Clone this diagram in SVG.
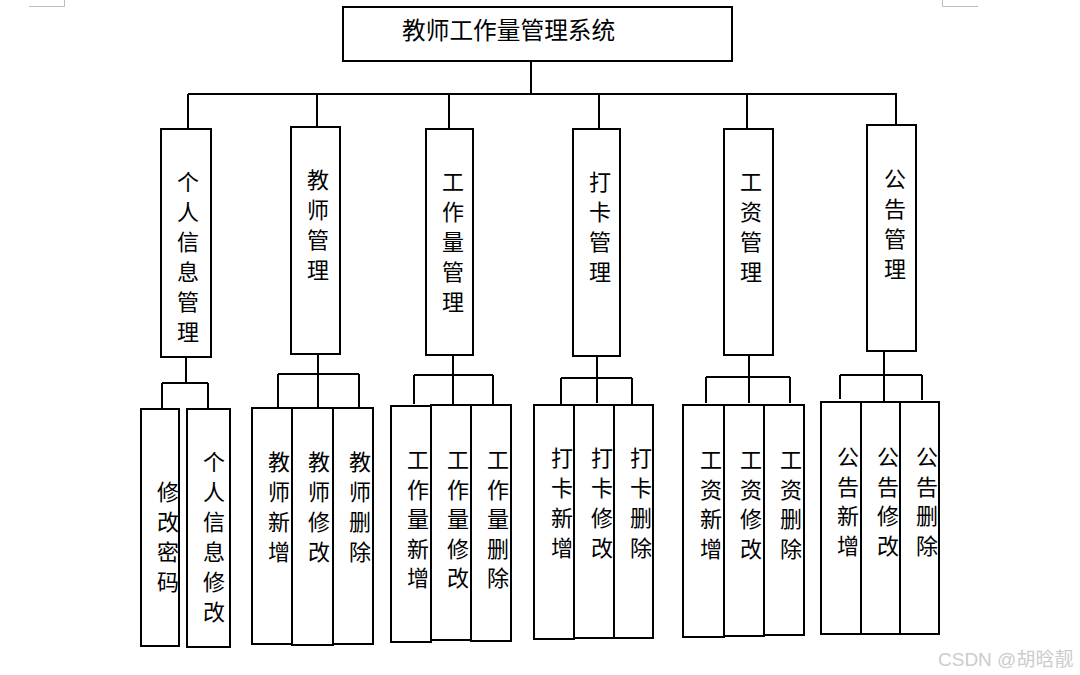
<svg xmlns="http://www.w3.org/2000/svg" width="1080" height="675" viewBox="0 0 1080 675">
<style>
.b{fill:#fff;stroke:#000;stroke-width:2}
.c{fill:none;stroke:#000;stroke-width:2}
.t{font-family:"Noto Sans CJK SC","Liberation Serif",serif;font-size:22px;fill:#000;text-anchor:middle}
.ttl{font-family:"Noto Sans CJK SC","Liberation Serif",serif;font-size:23.7px;fill:#000}
.m{fill:none;stroke:#bdbdbd;stroke-width:1}
</style>
<rect width="1080" height="675" fill="#fff"/>
<path class="m" d="M29 6.5H64.5V0M978 6.5H942.5V0"/>
<g id="connectors">
<path class="c" d="M531 61V95M188 94H897M188 94V128M317 94V126M449 94V128M599 94V128M747 94V128M896 94V124"/>
<path class="c" d="M186 357V383M162 383H208M162 383V408M208 383V408"/>
<path class="c" d="M318 354V407M278 374H359M278 374V408M359 374V408"/>
<path class="c" d="M453 355V404M414 375H493M414 375V404M493 375V404"/>
<path class="c" d="M597 355V403M561 378H632M561 378V404M632 378V404"/>
<path class="c" d="M749 355V403M706 377H790M706 377V403M790 377V403"/>
<path class="c" d="M884 351V402M840 375H922M840 375V399M922 375V400"/>
</g>
<g id="root"><rect class="b" x="343" y="7" width="389" height="54"/><text class="ttl" x="402" y="39">教师工作量管理系统</text></g>
<g id="n1"><rect class="b" x="161" y="129" width="50" height="228"/><text class="t"><tspan x="188" y="190">个</tspan><tspan x="188" dy="30">人</tspan><tspan x="188" dy="30">信</tspan><tspan x="188" dy="30">息</tspan><tspan x="188" dy="30">管</tspan><tspan x="188" dy="30">理</tspan></text></g>
<g id="n2"><rect class="b" x="291" y="127" width="49" height="227"/><text class="t"><tspan x="318" y="188">教</tspan><tspan x="318" dy="30">师</tspan><tspan x="318" dy="30">管</tspan><tspan x="318" dy="30">理</tspan></text></g>
<g id="n3"><rect class="b" x="426" y="129" width="47" height="226"/><text class="t"><tspan x="453" y="190">工</tspan><tspan x="453" dy="30">作</tspan><tspan x="453" dy="30">量</tspan><tspan x="453" dy="30">管</tspan><tspan x="453" dy="30">理</tspan></text></g>
<g id="n4"><rect class="b" x="573" y="129" width="47" height="227"/><text class="t"><tspan x="600" y="190">打</tspan><tspan x="600" dy="30">卡</tspan><tspan x="600" dy="30">管</tspan><tspan x="600" dy="30">理</tspan></text></g>
<g id="n5"><rect class="b" x="724" y="129" width="49" height="226"/><text class="t"><tspan x="751" y="190">工</tspan><tspan x="751" dy="30">资</tspan><tspan x="751" dy="30">管</tspan><tspan x="751" dy="30">理</tspan></text></g>
<g id="n6"><rect class="b" x="867" y="125" width="49" height="226"/><text class="t"><tspan x="895" y="187">公</tspan><tspan x="895" dy="30">告</tspan><tspan x="895" dy="30">管</tspan><tspan x="895" dy="30">理</tspan></text></g>
<g id="n1a"><rect class="b" x="141" y="409" width="38" height="237"/><text class="t"><tspan x="168" y="500">修</tspan><tspan x="168" dy="30">改</tspan><tspan x="168" dy="30">密</tspan><tspan x="168" dy="30">码</tspan></text></g>
<g id="n1b"><rect class="b" x="187" y="409" width="43" height="238"/><text class="t"><tspan x="214" y="470">个</tspan><tspan x="214" dy="30">人</tspan><tspan x="214" dy="30">信</tspan><tspan x="214" dy="30">息</tspan><tspan x="214" dy="30">修</tspan><tspan x="214" dy="30">改</tspan></text></g>
<g id="n2a"><rect class="b" x="252" y="408" width="40" height="236"/><text class="t"><tspan x="279" y="470">教</tspan><tspan x="279" dy="30">师</tspan><tspan x="279" dy="30">新</tspan><tspan x="279" dy="30">增</tspan></text></g>
<g id="n2b"><rect class="b" x="292" y="408" width="41" height="237"/><text class="t"><tspan x="319" y="470">教</tspan><tspan x="319" dy="30">师</tspan><tspan x="319" dy="30">修</tspan><tspan x="319" dy="30">改</tspan></text></g>
<g id="n2c"><rect class="b" x="333" y="408" width="40" height="236"/><text class="t"><tspan x="360" y="470">教</tspan><tspan x="360" dy="30">师</tspan><tspan x="360" dy="30">删</tspan><tspan x="360" dy="30">除</tspan></text></g>
<g id="n3a"><rect class="b" x="391" y="406" width="40" height="236"/><text class="t"><tspan x="418" y="468">工</tspan><tspan x="418" dy="29.5">作</tspan><tspan x="418" dy="29.5">量</tspan><tspan x="418" dy="29.5">新</tspan><tspan x="418" dy="29.5">增</tspan></text></g>
<g id="n3b"><rect class="b" x="431" y="405" width="40" height="235"/><text class="t"><tspan x="458" y="468">工</tspan><tspan x="458" dy="29.5">作</tspan><tspan x="458" dy="29.5">量</tspan><tspan x="458" dy="29.5">修</tspan><tspan x="458" dy="29.5">改</tspan></text></g>
<g id="n3c"><rect class="b" x="471" y="405" width="40" height="236"/><text class="t"><tspan x="498" y="468">工</tspan><tspan x="498" dy="29.5">作</tspan><tspan x="498" dy="29.5">量</tspan><tspan x="498" dy="29.5">删</tspan><tspan x="498" dy="29.5">除</tspan></text></g>
<g id="n4a"><rect class="b" x="534" y="405" width="40" height="234"/><text class="t"><tspan x="562" y="466">打</tspan><tspan x="562" dy="30">卡</tspan><tspan x="562" dy="30">新</tspan><tspan x="562" dy="30">增</tspan></text></g>
<g id="n4b"><rect class="b" x="574" y="405" width="40" height="233"/><text class="t"><tspan x="602" y="466">打</tspan><tspan x="602" dy="30">卡</tspan><tspan x="602" dy="30">修</tspan><tspan x="602" dy="30">改</tspan></text></g>
<g id="n4c"><rect class="b" x="614" y="405" width="39" height="233"/><text class="t"><tspan x="641" y="466">打</tspan><tspan x="641" dy="30">卡</tspan><tspan x="641" dy="30">删</tspan><tspan x="641" dy="30">除</tspan></text></g>
<g id="n5a"><rect class="b" x="683" y="405" width="41" height="232"/><text class="t"><tspan x="711" y="468">工</tspan><tspan x="711" dy="29.5">资</tspan><tspan x="711" dy="29.5">新</tspan><tspan x="711" dy="29.5">增</tspan></text></g>
<g id="n5b"><rect class="b" x="724" y="405" width="40" height="231"/><text class="t"><tspan x="751" y="468">工</tspan><tspan x="751" dy="29.5">资</tspan><tspan x="751" dy="29.5">修</tspan><tspan x="751" dy="29.5">改</tspan></text></g>
<g id="n5c"><rect class="b" x="764" y="405" width="40" height="230"/><text class="t"><tspan x="791" y="468">工</tspan><tspan x="791" dy="29.5">资</tspan><tspan x="791" dy="29.5">删</tspan><tspan x="791" dy="29.5">除</tspan></text></g>
<g id="n6a"><rect class="b" x="821" y="402" width="40" height="232"/><text class="t"><tspan x="848" y="465">公</tspan><tspan x="848" dy="29.5">告</tspan><tspan x="848" dy="29.5">新</tspan><tspan x="848" dy="29.5">增</tspan></text></g>
<g id="n6b"><rect class="b" x="861" y="402" width="39" height="232"/><text class="t"><tspan x="888" y="465">公</tspan><tspan x="888" dy="29.5">告</tspan><tspan x="888" dy="29.5">修</tspan><tspan x="888" dy="29.5">改</tspan></text></g>
<g id="n6c"><rect class="b" x="900" y="402" width="39" height="232"/><text class="t"><tspan x="927" y="465">公</tspan><tspan x="927" dy="29.5">告</tspan><tspan x="927" dy="29.5">删</tspan><tspan x="927" dy="29.5">除</tspan></text></g>
<text x="938" y="666" style="font-family:'Liberation Sans','Noto Sans CJK SC',sans-serif;font-size:19px;fill:#cccccc">CSDN @胡晗靓</text>
</svg>
